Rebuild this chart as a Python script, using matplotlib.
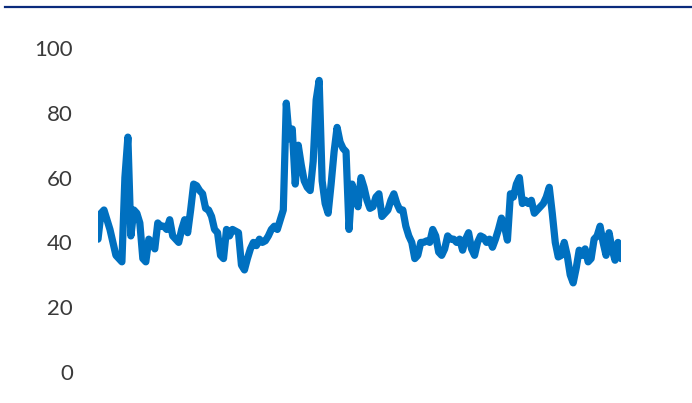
import matplotlib.pyplot as plt
from matplotlib.lines import Line2D

values = [
    41, 49, 50, 47, 44, 40, 36, 35, 34, 60, 72.5, 42, 50, 49, 46, 35, 34, 41,
    40, 38, 46, 45, 45, 44, 47, 42, 41, 40, 44, 47, 43, 50, 58, 57.5, 56, 55,
    50.5, 50, 48, 44, 43, 36, 35, 44, 42, 44, 43.5, 43, 33, 31.5, 35, 38, 40,
    39, 41, 40, 40.5, 42, 44, 45, 44, 47, 50, 83, 72, 75, 58, 70, 64, 59, 57,
    56, 65, 84, 90, 59, 52, 49, 58, 68, 75.5, 71, 69, 68, 44, 58, 55, 51, 60,
    57, 53, 50.5, 51, 54, 55, 48, 49, 50, 53, 55, 52, 50, 50, 45, 42, 40, 35,
    36, 40, 40, 40.5, 40, 44, 42, 37, 36, 38, 42, 41, 41, 40, 41, 37.6, 41,
    43, 38, 36, 40, 42, 41.5, 40, 41, 38.5, 41, 44, 47.5, 45, 40.7, 55, 54,
    58, 60, 52, 53, 52, 53, 49, 50, 51, 52, 54, 57, 49, 40, 35.5, 36, 40, 36,
    30, 27.5, 32, 37.6, 36, 38, 34, 35, 41, 42, 45, 40, 36, 43, 38, 34.5, 40,
    35,
]
y_ticks = [0, 20, 40, 60, 80, 100]

fig = plt.figure(figsize=(6.92, 4.03), dpi=100)
ax = fig.add_axes([98 / 692, 31 / 403, (621 - 98) / 692, (372 - 48) / 403])

ax.plot(range(len(values)), values, color='#0070C0', linewidth=5.2,
        solid_joinstyle='round', solid_capstyle='round')

ax.set_xlim(0, len(values) - 1)
ax.set_ylim(0, 100)
ax.set_yticks(y_ticks)
ax.set_yticklabels([str(v) for v in y_ticks], fontsize=16,
                   family='Lato', color='#3a3a3a')
ax.set_xticks([])
ax.tick_params(axis='y', length=0, pad=18)
for s in ax.spines.values():
    s.set_visible(False)

# navy rule across the top
fig.add_artist(Line2D([5 / 692, 1.0], [1 - 7 / 403, 1 - 7 / 403],
                      color='#0A2B7C', linewidth=1.6))

fig.savefig('out.png', dpi=100, facecolor='white')
